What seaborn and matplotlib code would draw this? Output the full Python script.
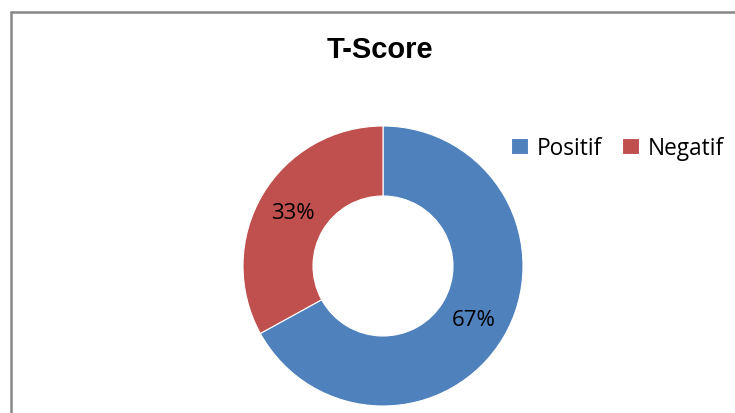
import matplotlib
matplotlib.use("Agg")
import matplotlib.pyplot as plt
from matplotlib.lines import Line2D
import seaborn as sns

categories = ["Positif", "Negatif"]
values = [67, 33]
colors = ["#4F81BD", "#C0504D"]
title = "T-Score"

sns.set_theme(style="white")
plt.rcParams["font.family"] = ["Liberation Sans", "DejaVu Sans"]
plt.rcParams["text.color"] = "black"

W, H = 735, 414
fig = plt.figure(figsize=(W / 100, H / 100), dpi=100)
ax = fig.add_axes([0, 0, 1, 1])

wedges, texts, autotexts = ax.pie(
    values,
    colors=colors,
    startangle=90,
    counterclock=False,
    center=(383, H - 267),
    radius=140,
    autopct="%.0f%%",
    pctdistance=0.75,
    wedgeprops=dict(width=70, edgecolor="white", linewidth=0.8),
    textprops=dict(fontsize=16, color="black", family=["Open Sans", "DejaVu Sans"]),
    frame=True,
)
ax.set_xlim(0, W)
ax.set_ylim(0, H)
ax.set_aspect("equal")
ax.axis("off")

ax.text(380, H - 50, title, ha="center", va="center",
        fontsize=21, fontweight="bold", color="black")

fig.legend(wedges, categories, loc="center left",
           bbox_to_anchor=(502 / W, 1 - 149 / H), ncol=2, frameon=False,
           handlelength=0.75, handleheight=0.75, handletextpad=0.4,
           columnspacing=0.85, borderaxespad=0,
           prop=dict(size=16.3, family=["Open Sans", "DejaVu Sans"]))

# chart-area border (runs off the right and bottom edges)
border = dict(color="#888888", linewidth=1.8, transform=None)
fig.add_artist(Line2D([10.5, W + 5], [H - 12.5, H - 12.5], **border))
fig.add_artist(Line2D([10.5, 10.5], [H - 12.5, -5], **border))

fig.savefig("out.png", dpi=100)
